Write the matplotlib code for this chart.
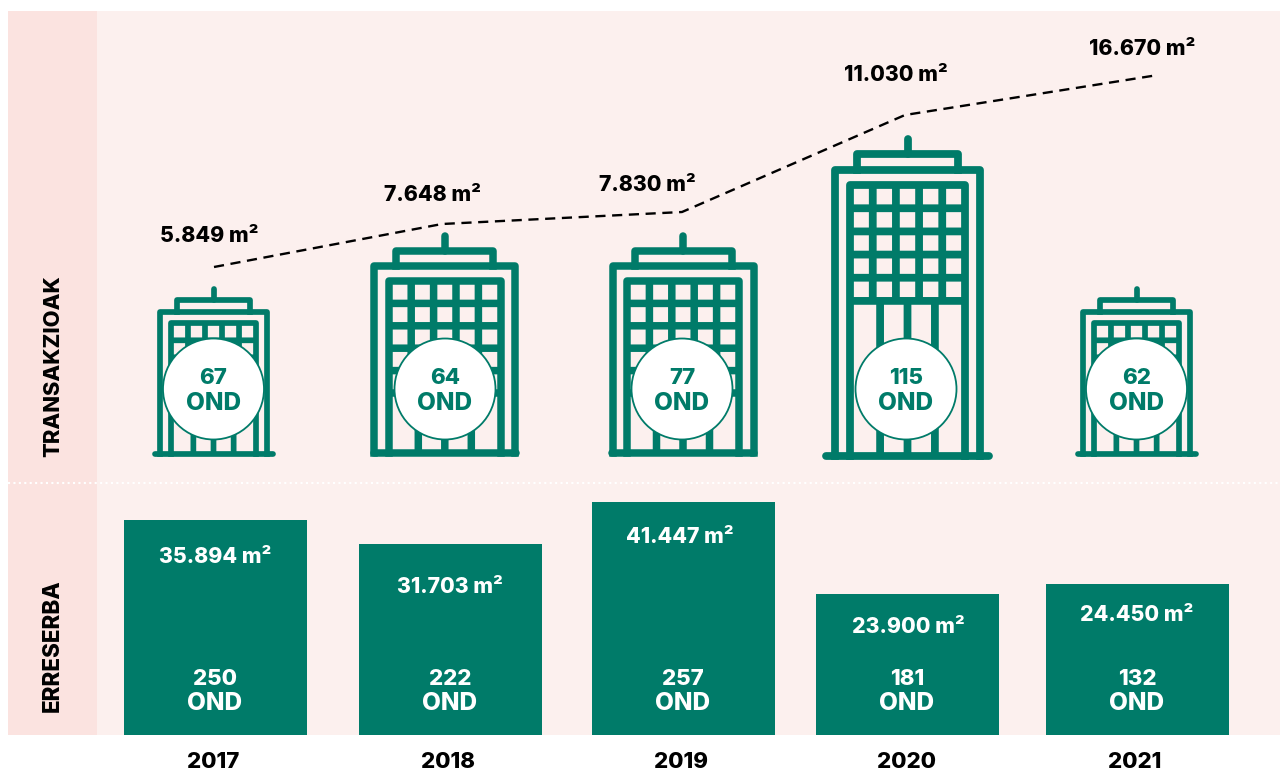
import matplotlib
matplotlib.use("Agg")
import matplotlib.pyplot as plt
from matplotlib.patches import Rectangle, Circle

years = ["2017", "2018", "2019", "2020", "2021"]
year_x = [213, 448, 681, 907, 1135]

# Reserve (bars): drawn height above the baseline
bar_x = [215.5, 450.5, 683.5, 907.5, 1137.5]
bar_heights = [215, 191, 233, 141, 151]
bar_area_labels = ["35.894 m²", "31.703 m²", "41.447 m²", "23.900 m²", "24.450 m²"]
bar_area_label_h = [178, 148, 198, 108, 120]
bar_area_label_x = [215, 450, 679.5, 908, 1137]
bar_counts = ["250", "222", "257", "181", "132"]

# Transactions (dashed line): drawn level above the baseline
line_x = [214, 442, 682, 905, 1158]
line_heights = [468, 511, 523, 620, 660]
line_labels = ["5.849 m²", "7.648 m²", "7.830 m²", "11.030 m²", "16.670 m²"]
line_label_x = [209, 432, 647, 896, 1142]
line_label_h = [499, 540, 550, 660, 686]

# Transactions (buildings)
tower_x = [213.5, 444.8, 683, 907.5, 1136.5]
tower_scale = [0.76, 1.0, 1.0, 1.034, 0.76]
tower_below = [60, 60, 60, 150, 60]
tower_base = [281, 282, 282, 279, 281]
tower_foot = [62, 74, 74, 84.5, 62]
tower_counts = ["67", "64", "77", "115", "62"]
circle_x = [213.5, 445, 682, 906, 1136.5]

GREEN = "#007B69"
BG = "#FCF0EE"
STRIP = "#FBE3E0"
FONT = ["Inter", "DejaVu Sans"]
WEIGHT = "heavy"

fig = plt.figure(figsize=(12.8, 7.7), dpi=100, facecolor="white")
ax = fig.add_axes([0, 0, 1, 1])
ax.set_xlim(0, 1280)
ax.set_ylim(-35, 735)
ax.axis("off")

ax.add_patch(Rectangle((8, 0), 1272, 724, fc=BG, ec="none", zorder=0))
ax.add_patch(Rectangle((8, 0), 89, 724, fc=STRIP, ec="none", zorder=0.5))
ax.plot([8, 1280], [252, 252], color="white", lw=1.5, ls=(0, (1, 1.6)), zorder=1)


def tower(cx, s, base, below, foot):
    lw = 7.5 * s * 0.72
    kw = dict(color=GREEN, lw=lw, zorder=2)
    grid_bot = base + below * s
    grid_top = grid_bot + 112 * s
    body_top = grid_top + 15 * s
    pent_top = body_top + 15 * s
    ant_top = pent_top + 15 * s
    ax.plot([cx, cx], [pent_top, ant_top], solid_capstyle="round", **kw)
    ax.plot([cx - 48.5 * s, cx - 48.5 * s, cx + 48.5 * s, cx + 48.5 * s],
            [body_top, pent_top, pent_top, body_top], solid_joinstyle="round", **kw)
    ax.plot([cx - 70.5 * s, cx - 70.5 * s, cx + 70.5 * s, cx + 70.5 * s],
            [base, body_top, body_top, base], solid_joinstyle="round", **kw)
    ax.plot([cx - 56 * s, cx - 56 * s, cx + 56 * s, cx + 56 * s],
            [base, grid_top, grid_top, base], solid_joinstyle="round", **kw)
    for i in range(1, 5):
        xx = cx + (i - 2.5) * 22.4 * s
        ax.plot([xx, xx], [grid_bot, grid_top], solid_capstyle="butt", snap=False, **kw)
    for i in range(1, 6):
        yy = grid_top - i * 22.4 * s
        ax.plot([cx - 56 * s, cx + 56 * s], [yy, yy], solid_capstyle="butt", snap=False, **kw)
    for d in (-26.5, 0, 26.5):
        ax.plot([cx + d * s] * 2, [base, grid_bot], solid_capstyle="butt", snap=False, **kw)
    ax.plot([cx - foot + 3, cx + foot - 3], [base, base], solid_capstyle="round", **kw)


for i in range(5):
    tower(tower_x[i], tower_scale[i], tower_base[i], tower_below[i], tower_foot[i])
    ax.add_patch(Circle((circle_x[i], 346), 50.5, fc="white", ec=GREEN, lw=1.3, zorder=3))
    ax.text(circle_x[i], 357.5, tower_counts[i], color=GREEN, fontsize=16, fontweight=WEIGHT,
            family=FONT, ha="center", va="center", zorder=4)
    ax.text(circle_x[i], 332, "OND", color=GREEN, fontsize=17.5, fontweight=WEIGHT,
            family=FONT, ha="center", va="center", zorder=4)

ax.plot(line_x, line_heights, color="black", lw=1.7, ls=(0, (4.3, 2.8)), zorder=2)
for x, y, t in zip(line_label_x, line_label_h, line_labels):
    ax.text(x, y, t, color="black", fontsize=15.3, fontweight=WEIGHT, family=FONT,
            ha="center", va="center", zorder=4)

ax.bar(bar_x, bar_heights, width=183, color=GREEN, zorder=2)
for x, y, t in zip(bar_area_label_x, bar_area_label_h, bar_area_labels):
    ax.text(x, y, t, color="white", fontsize=15.3, fontweight=WEIGHT, family=FONT,
            ha="center", va="center", zorder=4)
for x, t in zip(bar_x, bar_counts):
    ax.text(x - 0.5, 56, t, color="white", fontsize=16, fontweight=WEIGHT, family=FONT,
            ha="center", va="center", zorder=4)
    ax.text(x - 1, 31, "OND", color="white", fontsize=17.5, fontweight=WEIGHT, family=FONT,
            ha="center", va="center", zorder=4)

for x, t in zip(year_x, years):
    ax.text(x, -27, t, color="black", fontsize=16, fontweight=WEIGHT, family=FONT,
            ha="center", va="center")

ax.text(53, 369, "TRANSAKZIOAK", color="black", fontsize=15.8, fontweight=WEIGHT, family=FONT,
        rotation=90, ha="center", va="center")
ax.text(53, 89, "ERRESERBA", color="black", fontsize=16.2, fontweight=WEIGHT, family=FONT,
        rotation=90, ha="center", va="center")

fig.savefig("out.png", dpi=100, facecolor="white")
